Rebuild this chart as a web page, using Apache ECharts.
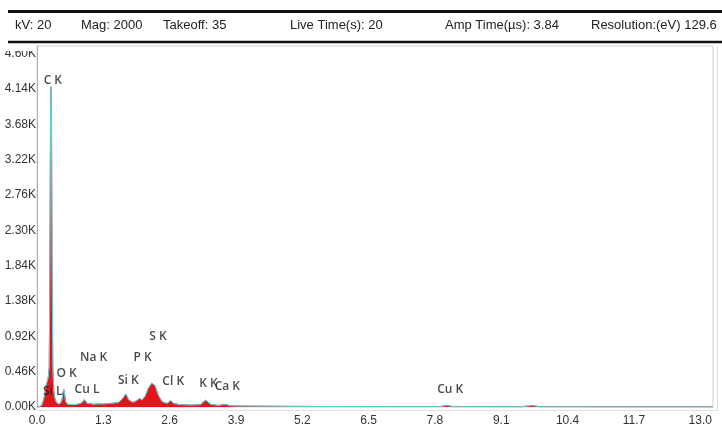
<!DOCTYPE html>
<html>
<head>
<meta charset="utf-8">
<script src="https://cdn.jsdelivr.net/npm/echarts@6/dist/echarts.min.js"></script>
<style>html,body{margin:0;padding:0;background:#fff;}#c{width:722px;height:429px;}</style>
</head>
<body>
<div id="c"></div>
<script>
// Spectrum (energy keV, counts)
const energy = [0.00,0.06,0.10,0.14,0.17,0.20,0.22,0.24,0.255,0.265,0.275,0.285,0.295,0.31,0.33,0.35,0.38,0.42,0.46,0.49,0.51,0.525,0.54,0.56,0.60,0.70,0.80,0.88,0.93,0.98,1.04,1.10,1.20,1.30,1.40,1.50,1.60,1.68,1.74,1.80,1.88,1.95,2.01,2.06,2.12,2.18,2.25,2.31,2.38,2.45,2.55,2.62,2.68,2.80,3.00,3.20,3.31,3.40,3.55,3.69,3.80,4.00,5.00,6.00,7.00,7.90,8.04,8.15,9.50,9.71,9.85,11.00,13.25];
const counts = [0,5,30,120,260,330,380,520,2000,3800,4170,3600,1800,500,200,110,60,40,45,90,190,230,170,70,35,30,35,55,95,50,45,35,40,38,45,50,60,110,170,90,60,80,110,90,140,240,310,280,150,70,45,85,45,30,25,30,90,35,20,35,15,12,8,6,5,5,20,5,4,18,4,3,2];

// Peak labels
const labelNames = ["C K","Si L","O K","Cu L","Na K","Si K","P K","S K","Cl K","K K","Ca K","Cu K"];
const labelEnergy = [0.31,0.31,0.58,0.98,1.11,1.79,2.07,2.37,2.67,3.36,3.73,8.10];
const labelCounts = [4245,195,430,221,638,339,638,911,326,300,260,221];

// Header
const headerTexts = ["kV: 20","Mag: 2000","Takeoff: 35","Live Time(s): 20","Amp Time(\u00b5s): 3.84","Resolution:(eV) 129.6"];
const headerX = [15,81,163,290,445,591];

// Axes
const xMin = 0, xMax = 13.25, xStep = 1.3;
const yMin = 0, yMax = 4700, yStep = 460;

const spec = energy.map((e,i)=>[e,counts[i]]);
const lbl = labelNames.map((n,i)=>({value:[labelEnergy[i],labelCounts[i]],name:n}));

const chart = echarts.init(document.getElementById('c'));
const tickFont = {fontFamily:'Liberation Sans Narrow, Liberation Sans, sans-serif', fontSize:12, color:'#333'};
chart.setOption({
  animation:false,
  grid:{left:37,top:46,right:9,bottom:22,show:true,borderColor:'#cfd3d6',borderWidth:1},
  xAxis:{type:'value',min:xMin,max:xMax,interval:xStep,
    axisLine:{show:false},axisTick:{show:false},splitLine:{show:false},
    axisLabel:Object.assign({margin:8,showMaxLabel:false,formatter:v=>v.toFixed(1)},tickFont)},
  yAxis:{type:'value',min:yMin,max:yMax,interval:yStep,
    axisLine:{show:true,lineStyle:{color:'#9fb2d6',width:1}},axisTick:{show:false},splitLine:{show:false},
    axisLabel:Object.assign({margin:1,showMaxLabel:false,formatter:v=>(v/1000).toFixed(2)+'K'},tickFont)},
  series:[
    {type:'line',data:spec,showSymbol:false,smooth:false,
      lineStyle:{color:'#e3151b',width:1},areaStyle:{color:'#e3151b',opacity:1},z:2},
    {type:'line',data:spec,showSymbol:false,smooth:false,
      lineStyle:{color:'#55d9e0',width:1},z:3},
    {type:'scatter',data:lbl,symbolSize:0,z:5,
      label:{show:true,position:'inside',formatter:p=>p.name,
        fontFamily:'Open Sans, sans-serif',fontSize:12,fontWeight:600,color:'#1a1a1a'}}
  ],
  graphic:[
    {type:'rect',shape:{x:0,y:43,width:36,height:8},style:{fill:'#fff'},z:100},
    {type:'line',shape:{x1:8,y1:11.5,x2:722,y2:11.5},style:{stroke:'#111',lineWidth:3},z:101},
    {type:'line',shape:{x1:8,y1:42,x2:722,y2:42},style:{stroke:'#111',lineWidth:2.5},z:101},
    {type:'line',shape:{x1:717.5,y1:46,x2:717.5,y2:410},style:{stroke:'#dde0e2',lineWidth:1},z:1},
    {type:'line',shape:{x1:37,y1:410.5,x2:718,y2:410.5},style:{stroke:'#dde0e2',lineWidth:1},z:1}
  ].concat(headerTexts.map((t,i)=>({type:'text',left:headerX[i],top:19,z:101,
    style:{text:t,font:'13px "Liberation Sans", Arial, sans-serif',fill:'#222'}})))
});
</script>
</body>
</html>
